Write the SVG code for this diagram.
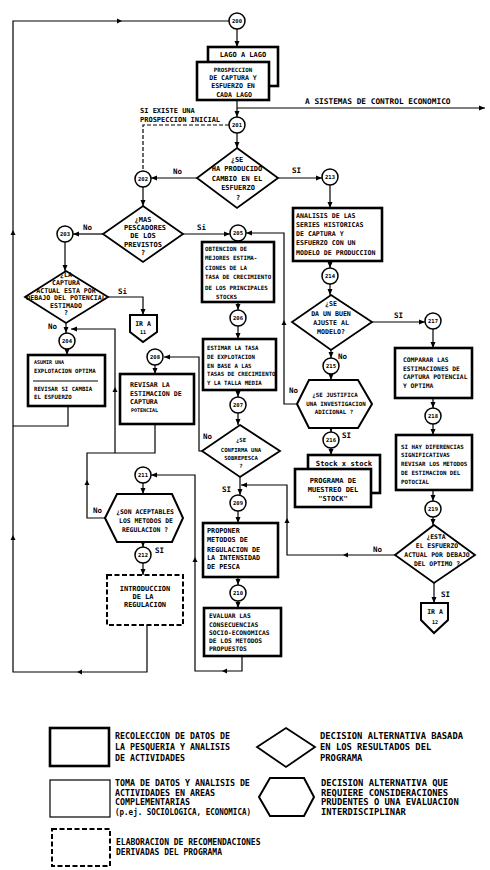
<svg xmlns="http://www.w3.org/2000/svg" width="490" height="870" viewBox="0 0 490 870">
<defs>
<marker id="ar" viewBox="0 0 6 6" refX="6" refY="3" markerWidth="6" markerHeight="6" markerUnits="userSpaceOnUse" orient="auto"><path d="M0,0.5 L6,3 L0,5.5 z" fill="#000"/></marker>
</defs>
<style>
text{font-family:"DejaVu Sans Mono","Liberation Mono",monospace;font-weight:bold;fill:#000}
.c{fill:#fff;stroke:#000;stroke-width:1.5}
.cl{font-size:5.5px;text-anchor:middle}
.bx{fill:#fff;stroke:#000;stroke-width:2.6}
.th{fill:#fff;stroke:#000;stroke-width:1.2}
.dm{fill:#fff;stroke:#000;stroke-width:1.8}
.hx{fill:#fff;stroke:#000;stroke-width:2}
.ds{fill:#fff;stroke:#000;stroke-width:2;stroke-dasharray:5 2.5}
.m{text-anchor:middle}
.ln{fill:none;stroke:#000;stroke-width:1.2}
.ar{marker-end:url(#ar)}
.ah{fill:#000}
.lb{font-size:7.5px}
.lg{font-size:8.3px}
.lr{font-size:8.8px}
</style>
<rect width="490" height="870" fill="#fff"/>

<g id="connectors">
<path class="ln" d="M147,625 V672 H13 V21 H229"/>
<path class="ah" d="M82,669.5 L77,672 L82,674.5 z"/>
<path class="ah" d="M10.5,540 L13,535 L15.5,540 z"/>
<path class="ah" d="M10.5,235 L13,230 L15.5,235 z"/>
<path class="ah" d="M117,18.5 L122,21 L117,23.5 z"/>
<path class="ln" d="M68,406 V426 H13"/>
<path class="ln ar" d="M237,29 V47"/>
<path class="ln ar" d="M237,100 V117"/>
<path class="ln ar" d="M237,108 H485"/>
<path class="ln" stroke-dasharray="4 2" d="M229,125 H143 V171"/>
<path class="ln ar" d="M237,133 V148"/>
<path class="ln ar" d="M197,178 H151"/>
<path class="ln ar" d="M278,178 H322"/>
<path class="ln ar" d="M143,187 V206"/>
<path class="ln ar" d="M183,234 H230"/>
<path class="ln ar" d="M103,234 H73"/>
<path class="ln ar" d="M65,242 V271"/>
<path class="ln ar" d="M108,297 H143 V315"/>
<path class="ln ar" d="M66,323 V333"/>
<path class="ln ar" d="M67,349 V355"/>
<path class="ln ar" d="M238,302 V310"/>
<path class="ln ar" d="M238,326 V339"/>
<path class="ln ar" d="M238,390 V397"/>
<path class="ln ar" d="M238,413 V425"/>
<path class="ln ar" d="M202,451 H199 V357 H164"/>
<path class="ln ar" d="M155,365 V374"/>
<path class="ln" d="M155,424 V453 H87 V518 H105"/>
<path class="ln ar" d="M115,453 V329 H71"/>
<path class="ah" d="M84.5,485 L87,480 L89.5,485 z"/>
<path class="ah" d="M112.5,392 L115,387 L117.5,392 z"/>
<path class="ln ar" d="M240,477 V495"/>
<path class="ln ar" d="M395,555 H287 V485 H241"/>
<path class="ah" d="M348,552.5 L343,555 L348,557.5 z"/>
<path class="ah" d="M284.5,523 L287,518 L289.5,523 z"/>
<path class="ln ar" d="M238,511 V523"/>
<path class="ln ar" d="M238,577 V585"/>
<path class="ln ar" d="M238,601 V608"/>
<path class="ln ar" d="M242,656 V671 H195 V475 H151"/>
<path class="ah" d="M227,668.5 L222,671 L227,673.5 z"/>
<path class="ah" d="M192.5,562 L195,557 L197.5,562 z"/>
<path class="ln ar" d="M143,483 V494"/>
<path class="ln ar" d="M143,542 V547"/>
<path class="ln ar" d="M143,563 V575"/>
<path class="ln ar" d="M330,185 V208"/>
<path class="ln ar" d="M330,261 V268"/>
<path class="ln ar" d="M330,284 V295"/>
<path class="ln ar" d="M372,322 H425"/>
<path class="ln ar" d="M331,350 V358"/>
<path class="ln ar" d="M331,374 V380"/>
<path class="ln ar" d="M297,404 H284 V233 H246"/>
<path class="ah" d="M281.5,325 L284,320 L286.5,325 z"/>
<path class="ln ar" d="M331,428 V432"/>
<path class="ln ar" d="M331,448 V455"/>
<path class="ln ar" d="M433,329 V348"/>
<path class="ln ar" d="M433,398 V408"/>
<path class="ln ar" d="M433,424 V435"/>
<path class="ln ar" d="M433,490 V501"/>
<path class="ln ar" d="M433,517 V525"/>
<path class="ln ar" d="M434,583 V603"/>
</g>

<g id="labels" class="lb">
<text x="305" y="104" font-size="7.8">A SISTEMAS DE CONTROL ECONOMICO</text>
<text x="140" y="113" font-size="7">SI EXISTE UNA</text>
<text x="140" y="122" font-size="7">PROSPECCION INICIAL</text>
<text x="173" y="174">No</text>
<text x="292" y="173">SI</text>
<text x="197" y="230">Si</text>
<text x="83" y="230">No</text>
<text x="118" y="294">Si</text>
<text x="48" y="329">No</text>
<text x="203" y="439">No</text>
<text x="222" y="492">SI</text>
<text x="93" y="513">No</text>
<text x="155" y="553">SI</text>
<text x="394" y="318">SI</text>
<text x="338" y="359">No</text>
<text x="289" y="393">No</text>
<text x="342" y="438">SI</text>
<text x="373" y="552">No</text>
<text x="441" y="597">SI</text>
</g>

<g id="n200"><circle class="c" cx="237" cy="21" r="8"/><text class="cl" x="237" y="23">200</text></g>

<g id="lago">
<rect class="bx" x="208" y="47" width="70" height="39"/>
<text class="m" x="243" y="57" font-size="7">LAGO A LAGO</text>
<rect class="bx" x="197" y="62" width="72" height="38"/>
<text class="m" x="233" y="72" font-size="5.8">PROSPECCION</text>
<g class="m" font-size="6.6">
<text x="233" y="80">DE CAPTURA Y</text>
<text x="233" y="88">ESFUERZO EN</text>
<text x="234" y="97">CADA LAGO</text>
</g>
</g>

<g id="n201"><circle class="c" cx="237" cy="125" r="8"/><text class="cl" x="237" y="127">201</text></g>

<g id="d1">
<polygon class="dm" points="237,148 278,178 237,208 197,178"/>
<g class="m" font-size="7">
<text x="237" y="162">¿SE</text>
<text x="237" y="171">HA PRODUCIDO</text>
<text x="237" y="181">CAMBIO EN EL</text>
<text x="238" y="190">ESFUERZO</text>
<text x="238" y="200">?</text>
</g>
</g>

<g id="n202"><circle class="c" cx="143" cy="179" r="8"/><text class="cl" x="143" y="181">202</text></g>

<g id="d2">
<polygon class="dm" points="143,206 183,234 143,262 103,234"/>
<g class="m" font-size="7">
<text x="143" y="222">¿MAS</text>
<text x="145" y="230">PESCADORES</text>
<text x="143" y="238">DE LOS</text>
<text x="143" y="247">PREVISTOS</text>
<text x="143" y="255">?</text>
</g>
</g>

<g id="n203"><circle class="c" cx="65" cy="234" r="8"/><text class="cl" x="65" y="236">203</text></g>

<g id="d3">
<polygon class="dm" points="66,271 108,297 66,323 25,297"/>
<g class="m" font-size="6.6">
<text x="66" y="277">¿LA</text>
<text x="66" y="285">CAPTURA</text>
<text x="66" y="293">ACTUAL ESTA POR</text>
<text x="66" y="300">DEBAJO DEL POTENCIAL</text>
<text x="66" y="308">ESTIMADO</text>
<text x="66" y="315">?</text>
</g>
</g>

<g id="ir11">
<polygon class="hx" points="130,315 157,315 157,332 143,342 130,332"/>
<text class="m" x="143" y="326" font-size="6.5">IR A</text>
<text class="m" x="143" y="334" font-size="5">11</text>
</g>

<g id="n204"><circle class="c" cx="67" cy="341" r="8"/><text class="cl" x="67" y="343">204</text></g>

<g id="b204">
<rect class="bx" x="28" y="355" width="77" height="51"/>
<line x1="33" y1="381" x2="98" y2="381" stroke="#000" stroke-width="1"/>
<text x="34" y="364" font-size="5">ASUMIR UNA</text>
<g font-size="5.7">
<text x="34" y="373">EXPLOTACION OPTIMA</text>
<text x="34" y="391">REVISAR SI CAMBIA</text>
<text x="34" y="399">EL ESFUERZO</text>
</g>
</g>

<g id="n205"><circle class="c" cx="238" cy="233" r="8"/><text class="cl" x="238" y="235">205</text></g>

<g id="b205">
<rect class="bx" x="202" y="242" width="72" height="60"/>
<g font-size="5.8">
<text x="205" y="251">OBTENCION DE</text>
<text x="205" y="260">MEJORES ESTIMA-</text>
<text x="205" y="270">CIONES DE LA</text>
<text x="205" y="279">TASA DE CRECIMIENTO</text>
<text x="205" y="290">DE LOS PRINCIPALES</text>
<text x="216" y="299">STOCKS</text>
</g>
</g>

<g id="n206"><circle class="c" cx="238" cy="318" r="8"/><text class="cl" x="238" y="320">206</text></g>

<g id="b206">
<rect class="bx" x="203" y="339" width="73" height="51"/>
<g font-size="5.7">
<text x="207" y="350">ESTIMAR LA TASA</text>
<text x="207" y="359">DE EXPLOTACION</text>
<text x="207" y="368">EN BASE A LAS</text>
<text x="207" y="376">TASAS DE CRECIMIENTO</text>
<text x="207" y="385">Y LA TALLA MEDIA</text>
</g>
</g>

<g id="n207"><circle class="c" cx="238" cy="405" r="8"/><text class="cl" x="238" y="407">207</text></g>

<g id="d207">
<polygon class="dm" points="240,425 280,451 240,477 202,451"/>
<g class="m" font-size="5.6">
<text x="241" y="442">¿SE</text>
<text x="241" y="452">CONFIRMA UNA</text>
<text x="241" y="460">SOBREPESCA</text>
<text x="241" y="468">?</text>
</g>
</g>

<g id="n208"><circle class="c" cx="155" cy="357" r="8"/><text class="cl" x="155" y="359">208</text></g>

<g id="b208">
<rect class="bx" x="120" y="374" width="74" height="50"/>
<g font-size="6.6">
<text x="130" y="387">REVISAR LA</text>
<text x="130" y="396">ESTIMACION DE</text>
<text x="130" y="404">CAPTURA</text>
</g>
<text x="131" y="412" font-size="5">POTENCIAL</text>
</g>

<g id="n209"><circle class="c" cx="238" cy="503" r="8"/><text class="cl" x="238" y="505">209</text></g>

<g id="b209">
<rect class="bx" x="203" y="523" width="75" height="54"/>
<g font-size="6.8">
<text x="207" y="533">PROPONER</text>
<text x="207" y="542">METODOS DE</text>
<text x="207" y="552">REGULACION DE</text>
<text x="207" y="560">LA INTENSIDAD</text>
<text x="207" y="569">DE PESCA</text>
</g>
</g>

<g id="n210"><circle class="c" cx="238" cy="593" r="8"/><text class="cl" x="238" y="595">210</text></g>

<g id="b210">
<rect class="bx" x="204" y="608" width="77" height="48"/>
<g font-size="6.3">
<text x="209" y="618">EVALUAR LAS</text>
<text x="209" y="627">CONSECUENCIAS</text>
<text x="209" y="635">SOCIO-ECONOMICAS</text>
<text x="209" y="643">DE LOS METODOS</text>
<text x="209" y="651">PROPUESTOS</text>
</g>
</g>

<g id="n211"><circle class="c" cx="143" cy="475" r="8"/><text class="cl" x="143" y="477">211</text></g>

<g id="h211">
<polygon class="hx" points="105,518 117,494 172,494 183,518 172,542 117,542"/>
<g class="m" font-size="6.4">
<text x="145" y="514">¿SON ACEPTABLES</text>
<text x="146" y="523">LOS METODOS DE</text>
<text x="145" y="532">REGULACION ?</text>
</g>
</g>

<g id="n212"><circle class="c" cx="143" cy="555" r="8"/><text class="cl" x="143" y="557">212</text></g>

<g id="b212">
<rect class="ds" x="107" y="575" width="76" height="50"/>
<g class="m" font-size="7">
<text x="145" y="591">INTRODUCCION</text>
<text x="143" y="599">DE LA</text>
<text x="145" y="607">REGULACION</text>
</g>
</g>

<g id="n213"><circle class="c" cx="330" cy="177" r="8"/><text class="cl" x="330" y="179">213</text></g>

<g id="b213">
<rect class="bx" x="293" y="208" width="89" height="53"/>
<g font-size="6.6">
<text x="296" y="218">ANALISIS DE LAS</text>
<text x="296" y="227">SERIES HISTORICAS</text>
<text x="296" y="236">DE CAPTURA Y</text>
<text x="296" y="245">ESFUERZO CON UN</text>
<text x="296" y="255">MODELO DE PRODUCCION</text>
</g>
</g>

<g id="n214"><circle class="c" cx="330" cy="276" r="8"/><text class="cl" x="330" y="278">214</text></g>

<g id="d214">
<polygon class="dm" points="331,295 372,322 331,350 292,322"/>
<g class="m" font-size="6.6">
<text x="331" y="306">¿SE</text>
<text x="331" y="316">DA UN BUEN</text>
<text x="331" y="325">AJUSTE AL</text>
<text x="331" y="334">MODELO?</text>
</g>
</g>

<g id="n215"><circle class="c" cx="331" cy="366" r="8"/><text class="cl" x="331" y="368">215</text></g>

<g id="h215">
<polygon class="hx" points="297,404 309,380 358,380 372,404 358,428 309,428"/>
<g class="m" font-size="5.8">
<text x="335" y="397">¿SE JUSTIFICA</text>
<text x="336" y="406">UNA INVESTIGACION</text>
<text x="334" y="414">ADICIONAL ?</text>
</g>
</g>

<g id="n216"><circle class="c" cx="331" cy="440" r="8"/><text class="cl" x="331" y="442">216</text></g>

<g id="b216">
<rect class="bx" x="308" y="455" width="72" height="38"/>
<text class="m" x="344" y="466" font-size="7.2">Stock x stock</text>
<rect class="bx" x="295" y="469" width="76" height="38"/>
<g class="m" font-size="7">
<text x="333" y="483">PROGRAMA DE</text>
<text x="333" y="492">MUESTREO DEL</text>
<text x="333" y="501">"STOCK"</text>
</g>
</g>

<g id="n217"><circle class="c" cx="433" cy="321" r="8"/><text class="cl" x="433" y="323">217</text></g>

<g id="b217">
<rect class="bx" x="395" y="348" width="77" height="50"/>
<g font-size="6.3">
<text x="403" y="362">COMPARAR LAS</text>
<text x="403" y="371">ESTIMACIONES DE</text>
<text x="403" y="379">CAPTURA POTENCIAL</text>
<text x="403" y="388">Y OPTIMA</text>
</g>
</g>

<g id="n218"><circle class="c" cx="433" cy="416" r="8"/><text class="cl" x="433" y="418">218</text></g>

<g id="b218">
<rect class="bx" x="396" y="435" width="76" height="55"/>
<g font-size="5.8">
<text x="401" y="449">SI HAY DIFERENCIAS</text>
<text x="401" y="457">SIGNIFICATIVAS</text>
<text x="401" y="466">REVISAR LOS METODOS</text>
<text x="401" y="475">DE ESTIMACION DEL</text>
<text x="401" y="484">POTOCIAL</text>
</g>
</g>

<g id="n219"><circle class="c" cx="433" cy="509" r="8"/><text class="cl" x="433" y="511">219</text></g>

<g id="d219">
<polygon class="dm" points="434,525 475,555 434,583 395,555"/>
<g class="m" font-size="6.4">
<text x="436" y="539">¿ESTA</text>
<text x="437" y="548">EL ESFUERZO</text>
<text x="437" y="557">ACTUAL POR DEBAJO</text>
<text x="437" y="566">DEL OPTIMO ?</text>
</g>
</g>

<g id="ir12">
<polygon class="hx" points="421,603 448,603 448,620 434,633 421,620"/>
<text class="m" x="435" y="614" font-size="6.5">IR A</text>
<text class="m" x="435" y="624" font-size="5">12</text>
</g>

<g id="legend">
<rect class="bx" x="50" y="728" width="59" height="38" stroke-width="3"/>
<g class="lg">
<text x="115" y="739">RECOLECCION DE DATOS DE</text>
<text x="115" y="750">LA PESQUERIA Y ANALISIS</text>
<text x="115" y="761">DE ACTIVIDADES</text>
</g>
<polygon class="dm" points="286,728 315,747 286,767 257,747"/>
<g class="lr">
<text x="320" y="739">DECISION ALTERNATIVA BASADA</text>
<text x="320" y="750">EN LOS RESULTADOS DEL</text>
<text x="320" y="761">PROGRAMA</text>
</g>
<rect class="th" x="50" y="780" width="60" height="37"/>
<g class="lg">
<text x="115" y="786">TOMA DE DATOS Y ANALISIS DE</text>
<text x="115" y="796">ACTIVIDADES EN AREAS</text>
<text x="115" y="805">COMPLEMENTARIAS</text>
<text x="115" y="815" textLength="136" lengthAdjust="spacingAndGlyphs">(p.ej. SOCIOLOGICA, ECONOMICA)</text>
</g>
<polygon class="hx" points="259,797 270,778 304,778 314,797 304,816 270,816"/>
<g class="lr">
<text x="321" y="786">DECISION ALTERNATIVA QUE</text>
<text x="321" y="796">REQUIERE CONSIDERACIONES</text>
<text x="321" y="805">PRUDENTES O UNA EVALUACION</text>
<text x="321" y="815">INTERDISCIPLINAR</text>
</g>
<rect class="ds" x="52" y="829" width="58" height="37"/>
<g font-size="8">
<text x="116" y="845">ELABORACION DE RECOMENDACIONES</text>
<text x="116" y="855">DERIVADAS DEL PROGRAMA</text>
</g>
</g>
</svg>
